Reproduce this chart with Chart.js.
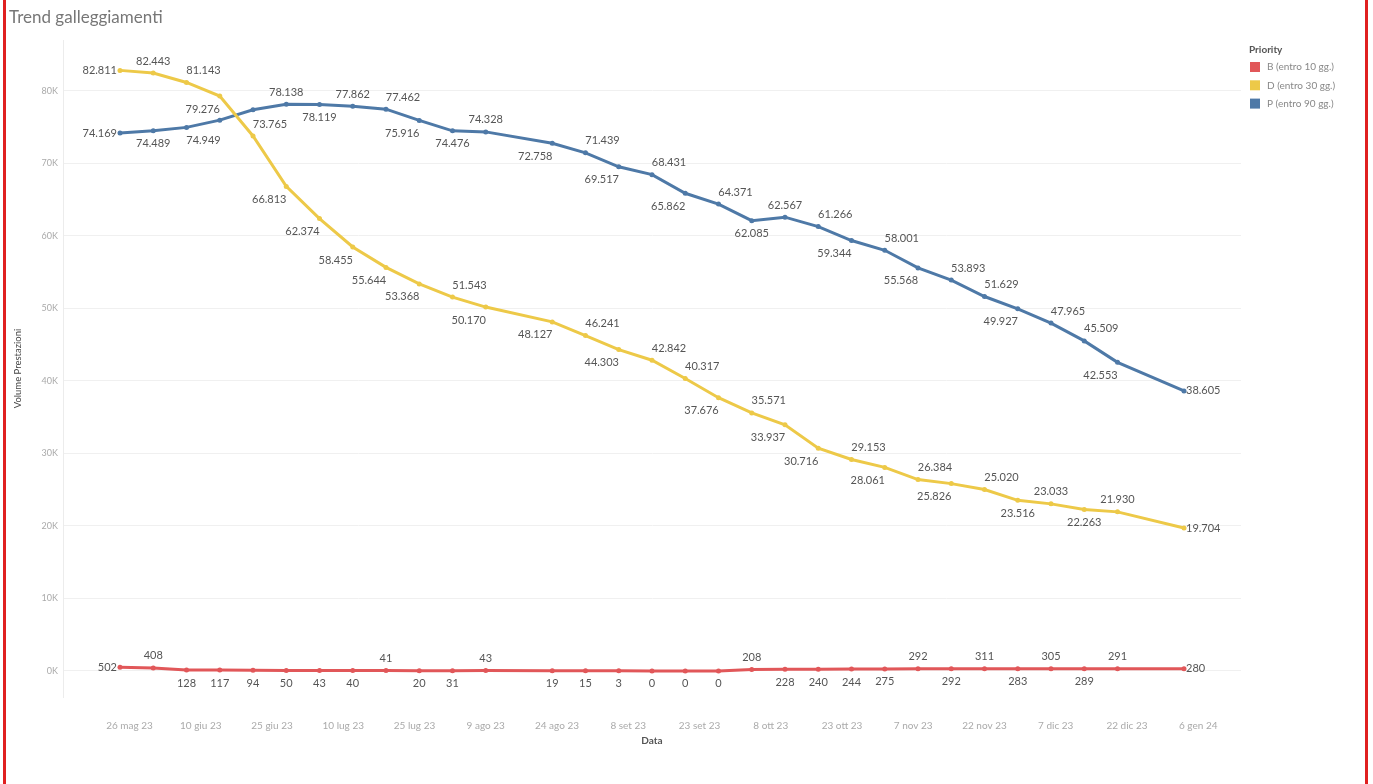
<!DOCTYPE html>
<html>
<head>
<meta charset="utf-8">
<title>Trend galleggiamenti</title>
<script src="https://cdn.jsdelivr.net/npm/chart.js@4.4.0/dist/chart.umd.min.js"></script>
<style>
    html, body { margin: 0; padding: 0; background: #fff; }
</style>
</head>
<body>
<canvas id="grafico" width="1373" height="784"></canvas>
<script>
const titolo        = "Trend galleggiamenti"
const legendaTitolo = "Priority"
const nomiSerie     = ["B (entro 10 gg.)", "D (entro 30 gg.)", "P (entro 90 gg.)"]
const colori        = ["#e15759", "#edc948", "#4e79a7"]

// settimane (mancano 16/08 e 27/12)
const date = [
    "2023-05-24", "2023-05-31", "2023-06-07", "2023-06-14", "2023-06-21", "2023-06-28",
    "2023-07-05", "2023-07-12", "2023-07-19", "2023-07-26", "2023-08-02", "2023-08-09",
    "2023-08-23", "2023-08-30", "2023-09-06", "2023-09-13", "2023-09-20", "2023-09-27",
    "2023-10-04", "2023-10-11", "2023-10-18", "2023-10-25", "2023-11-01", "2023-11-08",
    "2023-11-15", "2023-11-22", "2023-11-29", "2023-12-06", "2023-12-13", "2023-12-20",
    "2024-01-03"
]

const valoriB = [502, 408, 128, 117, 94, 50, 43, 40, 41, 20, 31, 43,
                 19, 15, 3, 0, 0, 0, 208, 228, 240, 244, 275, 292,
                 292, 311, 283, 305, 289, 291, 280]
const valoriD = [82811, 82443, 81143, 79276, 73765, 66813, 62374, 58455, 55644, 53368, 51543, 50170,
                 48127, 46241, 44303, 42842, 40317, 37676, 35571, 33937, 30716, 29153, 28061, 26384,
                 25826, 25020, 23516, 23033, 22263, 21930, 19704]
const valoriP = [74169, 74489, 74949, 75950, 77380, 78138, 78119, 77862, 77462, 75916, 74476, 74328,
                 72758, 71439, 69517, 68431, 65862, 64371, 62085, 62567, 61266, 59344, 58001, 55568,
                 53893, 51629, 49927, 47965, 45509, 42553, 38605]

// posizione etichette: t sopra, b sotto, l/r ai lati, tr/bl/br spostate, "" nessuna
const posB = ["l","t","b","b","b","b","b","b","t","b","b","t",
              "b","b","b","b","b","b","t","b","b","b","b","t",
              "b","t","b","t","b","t","r"]
const posD = ["l","t","tr","bl","tr","bl","bl","bl","bl","bl","tr","bl",
              "bl","tr","bl","tr","tr","bl","tr","bl","bl","tr","bl","tr",
              "bl","tr","b","t","b","t","r"]
const posP = ["l","b","br","","","t","b","t","tr","bl","b","t",
              "bl","tr","bl","tr","bl","tr","b","t","tr","bl","tr","bl",
              "tr","tr","bl","tr","tr","bl","r"]

const tickDate = ["2023-05-26", "2023-06-10", "2023-06-25", "2023-07-10", "2023-07-25", "2023-08-09",
                  "2023-08-24", "2023-09-08", "2023-09-23", "2023-10-08", "2023-10-23", "2023-11-07",
                  "2023-11-22", "2023-12-07", "2023-12-22", "2024-01-06"]
const tickValori = [0, 10000, 20000, 30000, 40000, 50000, 60000, 70000, 80000]
const mesi = ["gen", "feb", "mar", "apr", "mag", "giu", "lug", "ago", "set", "ott", "nov", "dic"]

const FONT = "Lato, 'Noto Sans', sans-serif"
const inizio = Date.parse(date[0])

function giorni(d) {
    return (Date.parse(d) - inizio) / 864e5
}

function etichettaData(g) {
    const d = new Date(inizio + g * 864e5)
    return d.getUTCDate() + " " + mesi[d.getUTCMonth()] + " " + String(d.getUTCFullYear()).slice(2)
}

function formatta(v) {
    return String(v).replace(/\B(?=(\d{3})+(?!\d))/g, ".")
}

const valori    = [valoriB, valoriD, valoriP]
const posizioni = [posB, posD, posP]

const decorazioni = {
    id: "decorazioni",
    afterDatasetsDraw(chart) {
        const ctx = chart.ctx
        ctx.save()
        ctx.font = "11px " + FONT
        ctx.fillStyle = "#555"
        ctx.textBaseline = "middle"
        chart.data.datasets.forEach((ds, i) => {
            chart.getDatasetMeta(i).data.forEach((pt, j) => {
                const pos = posizioni[i][j]
                if (!pos) return
                const testo = formatta(ds.data[j].y)
                if (pos == "l") { ctx.textAlign = "right"; ctx.fillText(testo, pt.x - 3, pt.y); return }
                if (pos == "r") { ctx.textAlign = "left";  ctx.fillText(testo, pt.x + 2, pt.y); return }
                let dx = 0
                if (pos[1] == "r") dx = 17
                if (pos[1] == "l") dx = -17
                ctx.textAlign = "center"
                ctx.fillText(testo, pt.x + dx, pt.y + (pos[0] == "t" ? -12 : 13))
            })
        })
        ctx.restore()
    },
    afterDraw(chart) {
        const ctx = chart.ctx
        ctx.save()
        ctx.textBaseline = "middle"
        ctx.textAlign = "left"

        ctx.font = "17px " + FONT
        ctx.fillStyle = "#777"
        ctx.fillText(titolo, 9, 18)

        // legenda
        ctx.font = "bold 10px " + FONT
        ctx.fillStyle = "#555"
        ctx.fillText(legendaTitolo, 1249, 50)
        ctx.font = "10px " + FONT
        nomiSerie.forEach((nome, i) => {
            const y = 67 + i * 18.3
            ctx.fillStyle = colori[i]
            ctx.fillRect(1250, y - 5, 10, 10)
            ctx.fillStyle = "#888"
            ctx.fillText(nome, 1267, y)
        })

        // cornice rossa
        ctx.fillStyle = "#e02020"
        ctx.fillRect(3, 0, 3, 784)
        ctx.fillRect(1365, 0, 3, 784)
        ctx.restore()
    }
}

new Chart(document.getElementById("grafico"), {
    type: "line",
    data: {
        datasets: valori.map((serie, i) => ({
            label: nomiSerie[i],
            data: serie.map((v, j) => ({ x: giorni(date[j]), y: v })),
            borderColor: colori[i],
            backgroundColor: colori[i],
            borderWidth: 3,
            pointRadius: 2.5,
            pointBorderWidth: 0,
            tension: 0
        }))
    },
    options: {
        responsive: false,
        animation: false,
        devicePixelRatio: 1,
        layout: { padding: { top: 40, right: 132, bottom: 0, left: 0 } },
        plugins: { legend: { display: false }, tooltip: { enabled: false } },
        scales: {
            x: {
                type: "linear",
                min: -12,
                max: 236,
                grid: { display: false },
                border: { display: false },
                afterBuildTicks: (ax) => { ax.ticks = tickDate.map(d => ({ value: giorni(d) })) },
                afterFit: (ax) => { ax.height = 87 },
                ticks: {
                    autoSkip: false, maxRotation: 0, padding: 15, color: "#aaa",
                    font: { family: FONT, size: 10 },
                    callback: (v) => etichettaData(v)
                },
                title: {
                    display: true, text: "Data", color: "#555",
                    font: { family: FONT, size: 10, weight: "bold" },
                    padding: { top: 0, bottom: 37 }
                }
            },
            y: {
                min: -3600,
                max: 87000,
                afterBuildTicks: (ax) => { ax.ticks = tickValori.map(v => ({ value: v })) },
                afterFit: (ax) => { ax.width = 63 },
                grid: { color: "#f0f0f0", drawTicks: false },
                border: { display: true, color: "#ececec" },
                ticks: {
                    padding: 5, color: "#aaa",
                    font: { family: FONT, size: 9 },
                    callback: (v) => (v / 1000) + "K"
                },
                title: {
                    display: true, text: "Volume Prestazioni", color: "#444",
                    font: { family: FONT, size: 9.5 },
                    padding: { top: 12, bottom: 0 }
                }
            }
        }
    },
    plugins: [decorazioni]
})
</script>
</body>
</html>
